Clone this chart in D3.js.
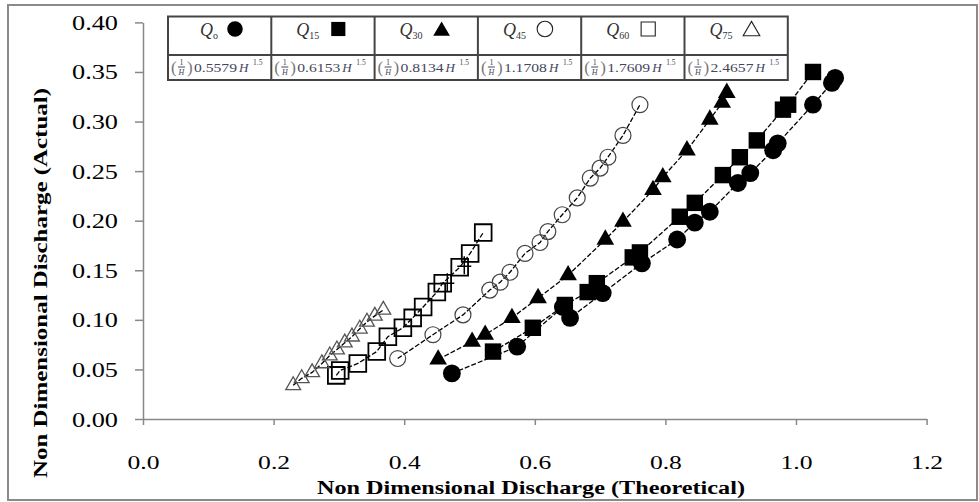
<!DOCTYPE html>
<html><head><meta charset="utf-8">
<script src="https://cdn.jsdelivr.net/npm/d3@7"></script>
<style>
body{margin:0;background:#fff;}
svg{display:block;}
</style></head>
<body>
<svg id="chart" width="979" height="502"></svg>
<script>
// ---------- data ----------
const xTicks = [0, 0.2, 0.4, 0.6, 0.8, 1.0, 1.2];
const yTicks = [0, 0.05, 0.10, 0.15, 0.20, 0.25, 0.30, 0.35, 0.40];
const xTitle = "Non Dimensional Discharge (Theoretical)";
const yTitle = "Non Dimensional Discharge (Actual)";

const seriesNames = ["0", "15", "30", "45", "60", "75"];
const seriesCoefs = ["0.5579", "0.6153", "0.8134", "1.1708", "1.7609", "2.4657"];

// Q0 filled circles
const q0X = [0.473, 0.573, 0.643, 0.654, 0.704, 0.764, 0.818, 0.845, 0.868, 0.911, 0.930, 0.965, 0.972, 1.026, 1.055, 1.060];
const q0Y = [0.046, 0.073, 0.113, 0.102, 0.127, 0.157, 0.181, 0.198, 0.209, 0.238, 0.248, 0.271, 0.278, 0.317, 0.339, 0.344];
// Q15 filled squares
const q15X = [0.536, 0.597, 0.646, 0.681, 0.695, 0.750, 0.761, 0.822, 0.845, 0.888, 0.914, 0.940, 0.980, 0.988, 1.026];
const q15Y = [0.068, 0.092, 0.115, 0.128, 0.137, 0.163, 0.168, 0.204, 0.218, 0.246, 0.264, 0.281, 0.312, 0.317, 0.350];
// Q30 filled triangles
const q30X = [0.452, 0.504, 0.524, 0.565, 0.605, 0.651, 0.708, 0.735, 0.781, 0.796, 0.833, 0.868, 0.887, 0.894];
const q30Y = [0.060, 0.078, 0.085, 0.102, 0.122, 0.145, 0.181, 0.199, 0.231, 0.244, 0.271, 0.302, 0.319, 0.329];
// Q45 open circles
const q45X = [0.390, 0.444, 0.490, 0.531, 0.547, 0.562, 0.585, 0.608, 0.620, 0.642, 0.665, 0.685, 0.700, 0.712, 0.735, 0.761];
const q45Y = [0.061, 0.085, 0.105, 0.130, 0.138, 0.148, 0.167, 0.178, 0.189, 0.206, 0.223, 0.243, 0.253, 0.264, 0.286, 0.317];
// Q60 open squares
const q60X = [0.296, 0.302, 0.329, 0.358, 0.375, 0.398, 0.413, 0.429, 0.450, 0.459, 0.485, 0.501, 0.521];
const q60Y = [0.044, 0.049, 0.056, 0.068, 0.083, 0.092, 0.102, 0.113, 0.128, 0.137, 0.153, 0.167, 0.188];
// Q75 open triangles
const q75X = [0.230, 0.243, 0.259, 0.274, 0.286, 0.297, 0.309, 0.320, 0.332, 0.343, 0.355, 0.368];
const q75Y = [0.034, 0.041, 0.047, 0.056, 0.064, 0.070, 0.077, 0.083, 0.091, 0.098, 0.104, 0.110];
// stray cross marks
const crossX = [0.466, 0.492];
const crossY = [0.137, 0.154];

// ---------- setup ----------
const svg = d3.select("#chart");
const x = d3.scaleLinear().domain([0, 1.2]).range([143, 926.6]);
const y = d3.scaleLinear().domain([0, 0.4]).range([419, 22.4]);
const FONT = "'Liberation Serif','Times New Roman',serif";

// outer border
svg.append("rect").attr("x", 8).attr("y", 5).attr("width", 969).attr("height", 495)
  .attr("fill", "#fff").attr("stroke", "#8a8a8a").attr("stroke-width", 2);

// axes
const gx = svg.append("g").attr("transform", "translate(0,419)")
  .call(d3.axisBottom(x).tickValues(xTicks).tickSizeInner(6).tickSizeOuter(0).tickFormat(d3.format(".1f")));
gx.select(".domain").attr("stroke", "#888").attr("stroke-width", 1.5);
gx.selectAll(".tick line").attr("stroke", "#888").attr("stroke-width", 1.5);
gx.selectAll(".tick text").attr("y", 50).attr("dy", null)
  .attr("font-family", FONT).attr("font-size", 19).attr("fill", "#000")
  .attr("textLength", 32).attr("lengthAdjust", "spacingAndGlyphs");

const gy = svg.append("g").attr("transform", "translate(143,0)")
  .call(d3.axisLeft(y).tickValues(yTicks).tickSizeInner(8).tickSizeOuter(0).tickPadding(17).tickFormat(d3.format(".2f")));
gy.select(".domain").attr("stroke", "#888").attr("stroke-width", 1.5);
gy.selectAll(".tick line").attr("stroke", "#888").attr("stroke-width", 1.5);
gy.selectAll(".tick text").attr("dy", null).attr("y", 7)
  .attr("font-family", FONT).attr("font-size", 20).attr("fill", "#000")
  .attr("textLength", 46).attr("lengthAdjust", "spacingAndGlyphs");

// axis titles
svg.append("text").attr("x", 531).attr("y", 494).attr("text-anchor", "middle")
  .attr("font-family", FONT).attr("font-weight", "bold").attr("font-size", 18)
  .attr("textLength", 428).attr("lengthAdjust", "spacingAndGlyphs").text(xTitle);
svg.append("text").attr("transform", "translate(47,283) rotate(-90)").attr("text-anchor", "middle")
  .attr("font-family", FONT).attr("font-weight", "bold").attr("font-size", 19)
  .attr("textLength", 390).attr("lengthAdjust", "spacingAndGlyphs").text(yTitle);

// ---------- series ----------
const series = [
  {xs: q0X, ys: q0Y, type: d3.symbolCircle, size: 250, fill: "#000", stroke: "none", sw: 0},
  {xs: q15X, ys: q15Y, type: d3.symbolSquare, size: 270, fill: "#000", stroke: "none", sw: 0},
  {xs: q30X, ys: q30Y, type: d3.symbolTriangle, size: 135, fill: "#000", stroke: "none", sw: 0},
  {xs: q45X, ys: q45Y, type: d3.symbolCircle, size: 200, fill: "none", stroke: "#444", sw: 1.2},
  {xs: q60X, ys: q60Y, type: d3.symbolSquare, size: 280, fill: "none", stroke: "#000", sw: 1.8},
  {xs: q75X, ys: q75Y, type: d3.symbolTriangle, size: 95, fill: "none", stroke: "#555", sw: 1.3}
];
const line = d3.line().x(d => x(d[0])).y(d => y(d[1]));
const plot = svg.append("g");
series.forEach(s => {
  const pts = s.xs.map((v, i) => [v, s.ys[i]]).sort((a, b) => a[0] - b[0]);
  plot.append("path").attr("d", line(pts)).attr("fill", "none")
    .attr("stroke", "#000").attr("stroke-width", 1.3).attr("stroke-dasharray", "5,2");
  plot.selectAll(null).data(pts).enter().append("path")
    .attr("transform", d => `translate(${x(d[0])},${y(d[1])})`)
    .attr("d", d3.symbol().type(s.type).size(s.size))
    .attr("fill", s.fill).attr("stroke", s.stroke).attr("stroke-width", s.sw);
});
plot.selectAll(null).data(crossX.map((v, i) => [v, crossY[i]])).enter().append("path")
  .attr("transform", d => `translate(${x(d[0])},${y(d[1])})`)
  .attr("d", "M-7,0H7M0,-10V8").attr("stroke", "#000").attr("stroke-width", 1.5).attr("fill", "none");

// ---------- legend table ----------
const tL = 168, tT = 16.5, tM = 55, tB = 80, cw = 103.3;
const leg = svg.append("g");
leg.append("rect").attr("x", tL).attr("y", tT).attr("width", cw * 6).attr("height", tB - tT)
  .attr("fill", "#fff").attr("stroke", "#444").attr("stroke-width", 2);
leg.append("line").attr("x1", tL).attr("x2", tL + cw * 6).attr("y1", tM).attr("y2", tM)
  .attr("stroke", "#444").attr("stroke-width", 2);
for (let i = 1; i < 6; i++) {
  leg.append("line").attr("x1", tL + cw * i).attr("x2", tL + cw * i).attr("y1", tT).attr("y2", tB)
    .attr("stroke", "#444").attr("stroke-width", 2);
}
seriesNames.forEach((nm, i) => {
  const L = tL + cw * i;
  const s = series[i];
  const qx = i === 0 ? L + 32 : L + 25;
  const t = leg.append("text").attr("x", qx).attr("y", 36).attr("font-family", FONT).attr("fill", "#333");
  t.append("tspan").attr("font-style", "italic").attr("font-size", 18).text("Q");
  t.append("tspan").attr("font-size", 10).attr("dy", 3).text(nm === "0" ? "o" : nm);
  leg.append("path").attr("transform", `translate(${L + 67},${s.type === d3.symbolTriangle ? 31 : 29})`)
    .attr("d", d3.symbol().type(s.type).size(s.type === d3.symbolTriangle ? 120 : (s.type === d3.symbolSquare ? 200 : 190)))
    .attr("fill", s.fill === "none" ? "#fff" : "#000").attr("stroke", s.fill === "none" ? "#222" : "none").attr("stroke-width", 1.1);

  const col = "#45465c";
  leg.append("text").attr("x", L + 3).attr("y", 73).attr("font-family", FONT).attr("font-size", 17)
    .attr("fill", "#777").text("(");
  leg.append("text").attr("x", L + 13.5).attr("y", 65).attr("text-anchor", "middle").attr("font-family", FONT)
    .attr("font-size", 8).attr("fill", col).text("1");
  leg.append("line").attr("x1", L + 10).attr("x2", L + 17).attr("y1", 67).attr("y2", 67).attr("stroke", col).attr("stroke-width", 1);
  leg.append("text").attr("x", L + 13.5).attr("y", 75).attr("text-anchor", "middle").attr("font-family", FONT)
    .attr("font-size", 8).attr("font-style", "italic").attr("fill", col).text("H");
  leg.append("text").attr("x", L + 19).attr("y", 73).attr("font-family", FONT).attr("font-size", 17)
    .attr("fill", "#777").text(")");
  leg.append("text").attr("x", L + 26).attr("y", 72).attr("font-family", FONT).attr("font-size", 13)
    .attr("fill", col).attr("textLength", 43).attr("lengthAdjust", "spacingAndGlyphs").text(seriesCoefs[i]);
  leg.append("text").attr("x", L + 71).attr("y", 72).attr("font-family", FONT).attr("font-size", 13)
    .attr("font-style", "italic").attr("fill", col).text("H");
  leg.append("text").attr("x", L + 85).attr("y", 65).attr("font-family", FONT).attr("font-size", 7.5)
    .attr("fill", col).text("1.5");
});
</script>
</body></html>
